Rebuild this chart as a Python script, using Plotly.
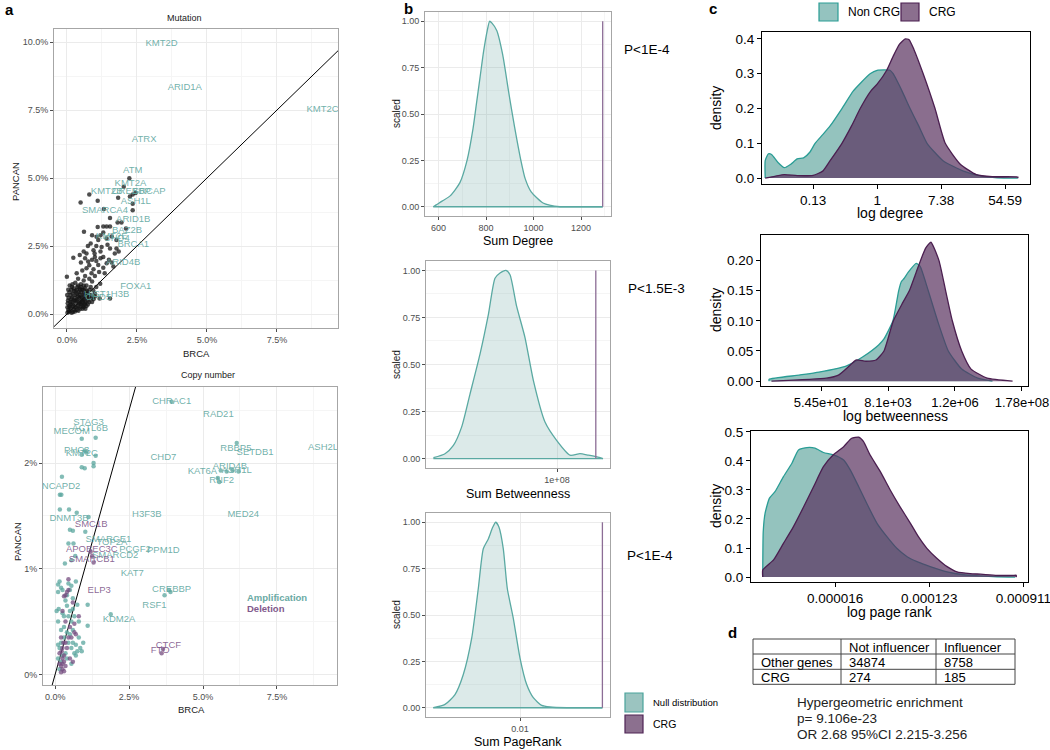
import plotly.graph_objects as go

W, H = 1050, 750
FONT = "Liberation Sans, Arial, sans-serif"

# ---------------- DATA ----------------
# Panel a: Mutation (BRCA %, PANCAN %)
mut_x = [2.23, 2.03, 0.80, 1.83, 2.35, 2.45, 2.25, 0.49, 1.10, 2.35, 2.35, 1.32, 1.54, 1.81, 1.95, 2.11,
         0.61, 1.30, 1.42, 1.54, 1.06, 1.12, 1.42, 1.77, 1.24, 1.54, 1.77, 0.99, 1.71, 0.23, 0.46, 0.70,
         0.76, 1.12, 1.42, 1.66, 0.70, 0.35, 0.88, 0.00, 0.60, 1.19, 0.18, 0.46, 0.70, 0.94, 1.17, 1.54,
         0.90, 1.00, 0.80, 0.95, 1.05, 1.20, 1.30, 1.15, 1.30, 0.55, 0.65, 0.80, 0.90, 1.00, 0.40, 0.50,
         0.70, 0.85, 1.05, 0.30, 0.60, 0.80, 1.00, 0.60, 0.75, 0.85, 1.05, 1.20, 1.50, 1.35, 1.60, 0.90,
         1.20, 1.10, 0.95, 0.50, 0.65, 1.45, 1.85, 1.60, 1.30,
         0.02, 0.05, 0.08, 0.10, 0.12, 0.15, 0.18, 0.20, 0.22, 0.25, 0.28, 0.30, 0.32, 0.35, 0.38, 0.40,
         0.42, 0.45, 0.48, 0.50, 0.52, 0.55, 0.58, 0.60, 0.62, 0.65, 0.68, 0.70, 0.72, 0.75, 0.78, 0.80,
         0.03, 0.06, 0.09, 0.11, 0.14, 0.16, 0.19, 0.21, 0.24, 0.27, 0.29, 0.31, 0.34, 0.37, 0.39, 0.41,
         0.44, 0.47, 0.49, 0.51, 0.54, 0.57, 0.59, 0.61, 0.64, 0.67, 0.69, 0.73, 0.02, 0.04, 0.07, 0.13,
         0.17, 0.23, 0.26, 0.33, 0.36, 0.43, 0.46, 0.53, 0.56, 0.63, 0.66, 0.01, 0.05, 0.10, 0.15, 0.20,
         0.25, 0.30, 0.35, 0.40, 0.45, 0.50, 0.55, 0.60, 0.85, 0.90, 0.95, 1.00, 0.80, 0.90, 0.75]
mut_y = [4.99, 4.68, 4.40, 4.28, 4.40, 4.45, 4.32, 4.10, 4.17, 4.06, 3.82, 3.86, 3.53, 3.37, 3.37, 3.15,
         3.03, 3.22, 3.22, 3.22, 2.84, 2.72, 2.78, 2.72, 2.47, 2.41, 2.41, 2.23, 2.23, 2.07, 2.17, 2.23,
         1.93, 1.81, 1.87, 1.75, 1.69, 1.50, 1.50, 1.37, 1.24, 1.12, 1.00, 0.94, 0.75, 0.88, 0.57, 0.57,
         2.00, 2.10, 1.80, 1.65, 1.95, 2.05, 2.10, 1.55, 1.70, 1.60, 1.40, 1.30, 1.20, 1.40, 1.30, 1.10,
         1.05, 1.00, 1.00, 1.15, 0.90, 0.90, 0.75, 2.30, 2.50, 2.60, 2.50, 2.30, 2.00, 1.50, 1.90, 2.90,
         2.90, 3.20, 2.35, 1.90, 2.05, 2.55, 2.30, 2.85, 3.00,
         0.05, 0.15, 0.30, 0.10, 0.45, 0.20, 0.60, 0.35, 0.08, 0.50, 0.25, 0.70, 0.40, 0.15, 0.55, 0.30,
         0.80, 0.45, 0.20, 0.65, 0.35, 0.90, 0.50, 0.25, 0.70, 0.40, 0.60, 0.30, 0.85, 0.50, 0.70, 0.45,
         0.40, 0.60, 0.80, 0.25, 0.70, 0.90, 0.45, 0.75, 0.95, 0.60, 0.10, 0.85, 0.50, 1.00, 0.65, 0.12,
         0.60, 0.90, 0.38, 0.80, 0.60, 0.30, 0.75, 0.55, 0.95, 0.45, 0.80, 0.65, 0.25, 0.50, 0.10, 0.35,
         0.05, 0.30, 0.15, 0.25, 0.75, 0.40, 0.70, 0.50, 0.20, 0.35, 0.20, 0.70, 0.90, 1.05, 0.55, 1.10,
         0.85, 0.50, 0.90, 1.05, 0.25, 1.00, 0.45, 1.05, 0.70, 0.60, 0.55, 0.65, 0.60, 0.45, 0.35]

mut_genes = ["KMT2D", "ARID1A", "KMT2C", "ATRX", "ATM", "KMT2A", "KMT2B", "CREBBP", "SRCAP", "ASH1L",
             "SMARCA4", "ARID1B", "BAZ2B", "KMT2E", "CHD4", "BRCA1", "ARID4B", "FOXA1", "HIST1H3B", "CHD5"]
mut_gx = [3.38, 4.21, 9.13, 2.76, 2.35, 2.27, 1.42, 2.30, 2.94, 2.46,
          1.36, 2.37, 2.15, 1.60, 1.78, 2.37, 2.01, 2.46, 1.42, 1.12]
mut_gy = [9.95, 8.32, 7.50, 6.42, 5.27, 4.80, 4.52, 4.52, 4.52, 4.13,
          3.79, 3.48, 3.06, 2.84, 2.78, 2.56, 1.90, 1.00, 0.70, 0.60]

# Panel a: Copy number
amp_x = [0.90, 1.37, 0.90, 1.05, 1.00, 1.37, 1.30, 1.30, 0.90, 1.00, 0.23, 0.16, 0.21, 0.16, 0.47, 0.73,
         0.50, 0.60, 1.02, 0.45, 0.62, 0.33, 0.55, 0.68, 1.13, 3.94, 6.14, 5.60, 5.80, 6.00, 6.20, 5.50,
         5.55, 3.85, 3.90, 3.70, 1.88,
         0.10, 0.15, 0.20, 0.10, 0.25, 0.45, 0.55, 0.70, 0.35, 0.40, 0.50, 0.60, 0.75, 1.10, 0.45, 0.55,
         0.65, 0.80, 0.30, 0.10, 0.20, 0.40, 0.50, 0.60, 0.70, 0.75, 0.65, 0.55, 0.10, 0.15, 0.20, 0.30,
         0.10, 0.20, 0.45, 0.85, 0.95, 1.10, 0.80, 0.30, 0.60, 0.90, 0.05, 0.12, 0.25, 0.40, 0.60, 0.50,
         0.70, 0.35, 0.25, 0.15, 0.40, 0.55]
amp_y = [2.23, 2.24, 2.08, 2.10, 2.12, 2.07, 2.00, 1.97, 1.96, 1.95, 1.87, 1.70, 1.70, 1.56, 1.56, 1.53,
         1.37, 1.36, 1.35, 1.24, 1.24, 1.05, 1.08, 1.12, 1.49, 2.58, 2.19, 1.93, 1.92, 1.93, 1.92, 1.86,
         1.82, 0.80, 0.78, 0.75, 0.57,
         0.85, 0.88, 0.82, 0.78, 0.80, 0.86, 0.84, 0.88, 0.70, 0.65, 0.60, 0.62, 0.66, 0.66, 0.55, 0.50,
         0.55, 0.50, 0.45, 0.50, 0.42, 0.40, 0.38, 0.30, 0.28, 0.22, 0.20, 0.25, 0.28, 0.25, 0.30, 0.35,
         0.15, 0.12, 0.30, 0.25, 0.30, 0.46, 0.35, 0.55, 0.42, 0.22, 0.60, 0.62, 0.58, 0.75, 0.72, 0.80,
         0.18, 0.20, 0.18, 0.05, 0.15, 0.10]
del_x = [0.45, 0.40, 0.35, 0.30, 0.45, 0.60, 0.80, 0.25, 0.35, 0.50, 0.65, 0.20, 0.35, 0.25, 0.45, 0.65,
         0.55, 0.70, 0.15, 0.25, 0.30, 0.20, 0.25, 0.20, 0.30, 0.30, 0.22, 0.40, 0.50, 0.60, 0.15, 0.35,
         1.25, 1.20, 1.30, 3.60, 3.65, 0.25, 0.28]
del_y = [0.90, 0.78, 0.75, 0.74, 0.80, 0.68, 0.55, 0.60, 0.50, 0.45, 0.48, 0.35, 0.30, 0.25, 0.35, 0.40,
         0.35, 0.38, 0.20, 0.15, 0.12, 0.08, 0.05, 0.02, 0.03, 0.18, 0.22, 0.25, 0.15, 0.12, 0.10, 0.08,
         1.12, 1.16, 1.06, 0.20, 0.24, 0.10, 0.30]

amp_genes = ["CHRAC1", "RAD21", "STAG3", "ACTL6B", "MECOM", "RBBP5", "SETDB1", "ASH2L", "PHC3", "KMT2C",
             "CHD7", "ARID4B", "KAT6A", "ASH1L", "RNF2", "NCAPD2", "H3F3B", "MED24", "DNMT3B", "SMARCE1",
             "TOP2A", "PCGF2", "PPM1D", "SMARCD2", "KAT7", "CREBBP", "RSF1", "KDM2A"]
amp_gx = [3.94, 5.52, 1.13, 1.18, 0.56, 6.11, 6.76, 9.06, 0.73, 0.90,
          3.66, 5.91, 4.98, 6.14, 5.63, 0.20, 3.10, 6.36, 0.47, 1.80,
          1.92, 2.70, 3.66, 2.03, 2.61, 3.94, 3.36, 2.16]
amp_gy = [2.58, 2.46, 2.38, 2.33, 2.30, 2.14, 2.10, 2.15, 2.12, 2.09,
          2.05, 1.97, 1.92, 1.93, 1.83, 1.78, 1.51, 1.51, 1.47, 1.28,
          1.25, 1.18, 1.17, 1.12, 0.95, 0.80, 0.65, 0.52]
del_genes = ["SMC1B", "APOBEC3C", "SMARCB1", "ELP3", "CTCF", "FTO"]
del_gx = [1.22, 1.24, 1.24, 1.49, 3.83, 3.55]
del_gy = [1.42, 1.18, 1.09, 0.79, 0.27, 0.23]

# Panel b: null distributions (scaled density) and CRG observed values
deg_x = [578, 590, 615, 650, 690, 720, 745, 760, 775, 790, 805, 815, 825, 845, 870, 895,
         920, 945, 965, 990, 1040, 1111, 1200, 1291]
deg_y = [0.0, 0.01, 0.03, 0.06, 0.13, 0.25, 0.42, 0.56, 0.70, 0.84, 0.95, 1.0, 0.99, 0.95, 0.82, 0.62,
         0.43, 0.26, 0.15, 0.08, 0.02, 0.0, 0.0, 0.0]
deg_crg = 1291
btw_x = [3.82e7, 4.40e7, 4.82e7, 5.23e7, 5.65e7, 6.15e7, 6.57e7, 6.90e7, 7.15e7, 7.45e7, 7.65e7,
         7.98e7, 8.40e7, 8.82e7, 9.40e7, 9.98e7, 1.065e8, 1.115e8, 1.157e8, 1.20e8, 1.23e8]
btw_y = [0.005, 0.026, 0.07, 0.167, 0.343, 0.555, 0.766, 0.958, 0.986, 1.0, 0.977,
         0.81, 0.643, 0.414, 0.194, 0.097, 0.018, 0.026, 0.018, 0.009, 0.0]
btw_crg = 1.194e8
pr_x = [0.005665, 0.00625, 0.00675, 0.007165, 0.007585, 0.007915, 0.008165, 0.008415, 0.008635,
        0.008785, 0.00895, 0.009165, 0.009365, 0.009665, 0.0100, 0.010335, 0.010665, 0.011085,
        0.0115, 0.01234, 0.0140, 0.01412]
pr_y = [0.0, 0.018, 0.071, 0.179, 0.375, 0.643, 0.857, 0.91, 0.973, 1.0, 0.973, 0.857, 0.643, 0.482,
        0.268, 0.125, 0.054, 0.0125, 0.004, 0.0, 0.0, 0.0]
pr_crg = 0.01412
pvals = ["P<1E-4", "P<1.5E-3", "P<1E-4"]

# Panel c: densities on natural-log scale
c1_non_x = [-3.5, -3.5, -3.4, -3.3, -3.1, -2.9, -2.7, -2.5, -2.3, -2.1, -1.94, -1.7, -1.47, -1.1, -0.75,
            -0.5, -0.22, 0.0, 0.4, 0.5, 0.78, 1.03, 1.3, 1.56, 2.06, 2.7, 3.3, 3.75, 4.4]
c1_non_y = [0.0, 0.05, 0.07, 0.068, 0.045, 0.03, 0.04, 0.055, 0.058, 0.075, 0.10, 0.125, 0.15, 0.20, 0.25,
            0.275, 0.30, 0.31, 0.31, 0.30, 0.25, 0.20, 0.15, 0.10, 0.05, 0.02, 0.005, 0.001, 0.0]
c1_crg_x = [-3.5, -3.2, -2.9, -2.5, -2.0, -1.7, -1.47, -1.1, -0.8, -0.53, -0.2, 0.0, 0.3, 0.5, 0.7,
            0.88, 1.0, 1.15, 1.44, 1.81, 2.13, 2.6, 3.1, 3.6, 4.4, 4.4]
c1_crg_y = [0.0, 0.005, 0.01, 0.007, 0.008, 0.02, 0.05, 0.10, 0.15, 0.20, 0.25, 0.27, 0.31, 0.35, 0.385,
            0.40, 0.398, 0.37, 0.30, 0.20, 0.10, 0.04, 0.01, 0.004, 0.003, 0.0]
c2_non_x = [0.12, 0.12, 2.36, 3.85, 5.87, 7.1, 8.3, 8.7, 9.37, 9.8, 10.0, 10.2, 10.5, 11.1, 11.4, 12.0,
            12.7, 13.5, 14.5, 15.7, 16.8]
c2_non_y = [0.0, 0.003, 0.01, 0.015, 0.025, 0.04, 0.06, 0.07, 0.10, 0.15, 0.165, 0.17, 0.18, 0.195, 0.19,
            0.15, 0.10, 0.05, 0.02, 0.005, 0.0]
c2_crg_x = [0.3, 4.4, 5.3, 6.1, 6.6, 7.35, 8.1, 8.7, 9.4, 10.1, 10.6, 11.1, 11.8, 12.2, 12.8, 13.3,
            13.8, 14.5, 15.2, 16.4, 18.3]
c2_crg_y = [0.0, 0.005, 0.01, 0.025, 0.035, 0.033, 0.035, 0.05, 0.10, 0.13, 0.15, 0.18, 0.22, 0.23, 0.20,
            0.15, 0.10, 0.05, 0.02, 0.005, 0.0]
c3_non_x = [-12.54, -12.54, -12.53, -12.49, -12.40, -12.28, -12.10, -11.92, -11.78, -11.60, -11.43,
            -11.25, -11.04, -10.82, -10.68, -10.50, -10.33, -10.11, -9.90, -9.69, -9.47, -9.26, -8.98,
            -8.62, -8.27, -7.91, -7.56, -7.17]
c3_non_y = [0.0, 0.02, 0.156, 0.22, 0.271, 0.294, 0.346, 0.392, 0.438, 0.446, 0.444, 0.429, 0.421, 0.403,
            0.369, 0.311, 0.254, 0.185, 0.139, 0.099, 0.07, 0.053, 0.036, 0.018, 0.008, 0.004, 0.001, 0.0]
c3_crg_x = [-12.54, -12.54, -12.31, -12.10, -11.89, -11.67, -11.46, -11.25, -11.04, -10.82, -10.65,
            -10.50, -10.40, -10.26, -10.04, -9.83, -9.62, -9.40, -9.23, -9.05, -8.84, -8.62, -8.41,
            -8.13, -7.91, -7.56, -7.21, -7.15, -7.15]
c3_crg_y = [0.0, 0.024, 0.059, 0.116, 0.173, 0.242, 0.311, 0.380, 0.421, 0.449, 0.478, 0.482, 0.467,
            0.421, 0.363, 0.30, 0.242, 0.185, 0.139, 0.099, 0.065, 0.036, 0.018, 0.012, 0.01, 0.006,
            0.006, 0.006, 0.0]
c1_ticks = [-2, 0, 2, 4]
c1_labels = ["0.13", "1", "7.38", "54.59"]
c2_ticks = [4, 9, 14, 19]
c2_labels = ["5.45e+01", "8.1e+03", "1.2e+06", "1.78e+08"]
c3_ticks = [-11, -9, -7]
c3_labels = ["0.000016", "0.000123", "0.000911"]

# Panel d: table
tbl_header = ["", "Not influencer", "Influencer"]
tbl_rows = [["Other genes", "34874", "8758"], ["CRG", "274", "185"]]
hyper_lines = ["Hypergeometric enrichment", "p= 9.106e-23", "OR 2.68 95%CI 2.215-3.256"]

# ---------------- STYLE ----------------
TEAL_LBL = "rgba(95,168,161,0.9)"
PURP_LBL = "rgba(128,86,138,0.9)"
TEAL_PT = "rgba(90,165,158,0.75)"
PURP_PT = "rgba(118,78,128,0.75)"
NON_FILL = "rgba(41,135,125,0.5)"
NON_LINE = "#2a9d95"
CRG_FILL = "rgba(89,49,94,0.7)"
CRG_LINE = "#4b1f50"
B_FILL = "rgba(80,150,145,0.2)"
B_LINE = "#5aa9a2"
B_CRG = "#8c6d96"


def dx(l, r):
    return [l / W, r / W]


def dy(t, b):
    return [1 - b / H, 1 - t / H]


def px(x, y):
    return x / W, 1 - y / H


fig = go.Figure()

# --- a: mutation
fig.add_trace(go.Scatter(x=[-1, 11], y=[-1, 11], mode="lines", line=dict(color="black", width=1),
                         xaxis="x", yaxis="y", hoverinfo="skip"))
fig.add_trace(go.Scatter(x=mut_x, y=mut_y, mode="markers", xaxis="x", yaxis="y",
                         marker=dict(color="rgba(20,20,20,0.75)", size=4.5, line=dict(width=0))))
fig.add_trace(go.Scatter(x=mut_gx, y=mut_gy, text=mut_genes, mode="text", xaxis="x", yaxis="y",
                         textfont=dict(family=FONT, size=9.5, color=TEAL_LBL), cliponaxis=True))
# --- a: copy number
fig.add_trace(go.Scatter(x=[-1, 11], y=[-1, 11], mode="lines", line=dict(color="black", width=1),
                         xaxis="x2", yaxis="y2", hoverinfo="skip"))
fig.add_trace(go.Scatter(x=amp_x, y=amp_y, mode="markers", xaxis="x2", yaxis="y2",
                         marker=dict(color=TEAL_PT, size=4.5, line=dict(width=0))))
fig.add_trace(go.Scatter(x=del_x, y=del_y, mode="markers", xaxis="x2", yaxis="y2",
                         marker=dict(color=PURP_PT, size=4.5, line=dict(width=0))))
fig.add_trace(go.Scatter(x=amp_gx, y=amp_gy, text=amp_genes, mode="text", xaxis="x2", yaxis="y2",
                         textfont=dict(family=FONT, size=9.5, color=TEAL_LBL), cliponaxis=True))
fig.add_trace(go.Scatter(x=del_gx, y=del_gy, text=del_genes, mode="text", xaxis="x2", yaxis="y2",
                         textfont=dict(family=FONT, size=9.5, color=PURP_LBL), cliponaxis=True))

# --- b
for (xs, ys, crg, ax) in [(deg_x, deg_y, deg_crg, "3"), (btw_x, btw_y, btw_crg, "4"), (pr_x, pr_y, pr_crg, "5")]:
    fig.add_trace(go.Scatter(x=xs, y=ys, mode="lines", fill="tozeroy", fillcolor=B_FILL,
                             line=dict(color=B_LINE, width=1.3, shape="spline", smoothing=0.6),
                             xaxis="x" + ax, yaxis="y" + ax))
    fig.add_trace(go.Scatter(x=[xs[0], xs[-1]], y=[0, 0], mode="lines", line=dict(color=B_LINE, width=1.3),
                             xaxis="x" + ax, yaxis="y" + ax))
    fig.add_trace(go.Scatter(x=[crg, crg], y=[0, 1], mode="lines", line=dict(color=B_CRG, width=1.3),
                             xaxis="x" + ax, yaxis="y" + ax))

# --- c
for (nx, ny, cx, cy, ax) in [(c1_non_x, c1_non_y, c1_crg_x, c1_crg_y, "6"),
                             (c2_non_x, c2_non_y, c2_crg_x, c2_crg_y, "7"),
                             (c3_non_x, c3_non_y, c3_crg_x, c3_crg_y, "8")]:
    fig.add_trace(go.Scatter(x=nx, y=ny, mode="lines", fill="tozeroy", fillcolor=NON_FILL,
                             line=dict(color=NON_LINE, width=1.3, shape="spline", smoothing=0.5),
                             xaxis="x" + ax, yaxis="y" + ax))
    fig.add_trace(go.Scatter(x=cx, y=cy, mode="lines", fill="tozeroy", fillcolor=CRG_FILL,
                             line=dict(color=CRG_LINE, width=1.3, shape="spline", smoothing=0.5),
                             xaxis="x" + ax, yaxis="y" + ax))


def bw(domain, rng, anchor, **kw):
    d = dict(domain=domain, range=rng, anchor=anchor, showline=True, mirror=True, linecolor="#a6a6a6",
             linewidth=1, showgrid=True, gridcolor="#ebebeb", gridwidth=1, zeroline=False,
             ticks="outside", ticklen=3, tickcolor="#4d4d4d", tickwidth=1, ticklabeloverflow="allow",
             tickfont=dict(family=FONT, size=9, color="#4d4d4d"))
    d.update(kw)
    return d


def cl(domain, rng, anchor, size=13.5, **kw):
    d = dict(domain=domain, range=rng, anchor=anchor, showline=True, mirror=True, linecolor="black",
             linewidth=1.2, showgrid=False, zeroline=False, ticks="outside", ticklen=4, tickcolor="black",
             tickwidth=1, ticklabeloverflow="allow", tickfont=dict(family=FONT, size=size, color="black"))
    d.update(kw)
    return d


MINOR = dict(showgrid=True, gridcolor="#f5f5f5", ticks="")

layout = dict(
    width=W, height=H, margin=dict(l=0, r=0, t=0, b=0), showlegend=False,
    paper_bgcolor="white", plot_bgcolor="white", template="none",
    font=dict(family=FONT),
    xaxis=bw(dx(54, 338), [-0.46, 9.68], "y", tick0=0, dtick=2.5, tickformat=".1f", ticksuffix="%",
             minor=dict(tick0=0, dtick=1.25, **MINOR)),
    yaxis=bw(dy(29, 328), [-0.51, 10.48], "x", tick0=0, dtick=2.5, tickformat=".1f", ticksuffix="%",
             minor=dict(tick0=0, dtick=1.25, **MINOR)),
    xaxis2=bw(dx(43, 337), [-0.41, 9.53], "y2", tick0=0, dtick=2.5, tickformat=".1f", ticksuffix="%",
              minor=dict(tick0=0, dtick=1.25, **MINOR)),
    yaxis2=bw(dy(387, 685), [-0.10, 2.72], "x2", tick0=0, dtick=1, tickformat=".0f", ticksuffix="%",
              minor=dict(tick0=0, dtick=0.5, **MINOR)),
    xaxis3=bw(dx(425, 611), [543, 1326], "y3", tick0=0, dtick=200, minor=dict(tick0=0, dtick=100, **MINOR)),
    yaxis3=bw(dy(12, 216), [-0.05, 1.05], "x3", tick0=0, dtick=0.25, tickformat=".2f",
              minor=dict(tick0=0, dtick=0.125, **MINOR)),
    xaxis4=bw(dx(426, 610), [3.45e7, 1.265e8], "y4", tickmode="array", tickvals=[1e8], ticktext=["1e+08"]),
    yaxis4=bw(dy(261, 468), [-0.05, 1.05], "x4", tick0=0, dtick=0.25, tickformat=".2f",
              minor=dict(tick0=0, dtick=0.125, **MINOR)),
    xaxis5=bw(dx(426, 610), [0.0053, 0.0145], "y5", tickmode="array", tickvals=[0.01], ticktext=["0.01"]),
    yaxis5=bw(dy(513, 717), [-0.05, 1.05], "x5", tick0=0, dtick=0.25, tickformat=".2f",
              minor=dict(tick0=0, dtick=0.125, **MINOR)),
    xaxis6=cl(dx(762, 1030), [-3.6, 4.78], "y6", tickmode="array", tickvals=c1_ticks, ticktext=c1_labels),
    yaxis6=cl(dy(32, 184), [-0.017, 0.42], "x6", tick0=0, dtick=0.1, tickformat=".1f"),
    xaxis7=cl(dx(761, 1028), [-0.48, 19.45], "y7", size=13, tickmode="array", tickvals=c2_ticks,
              ticktext=c2_labels),
    yaxis7=cl(dy(235, 386), [-0.008, 0.242], "x7", tick0=0, dtick=0.05, tickformat=".2f"),
    xaxis8=cl(dx(751, 1028), [-12.79, -6.9], "y8", tickmode="array", tickvals=c3_ticks, ticktext=c3_labels),
    yaxis8=cl(dy(431, 582), [-0.017, 0.503], "x8", tick0=0, dtick=0.1, tickformat=".1f"),
)
fig.update_layout(**layout)

ann = []
shapes = []


def text(x, y, s, size, color="black", xanchor="center", yanchor="middle", angle=0, bold=False):
    xx, yy = px(x, y)
    ann.append(dict(x=xx, y=yy, xref="paper", yref="paper", text=("<b>%s</b>" % s) if bold else s,
                    showarrow=False, xanchor=xanchor, yanchor=yanchor, textangle=angle,
                    font=dict(family=FONT, size=size, color=color)))


def rect(x0, y0, x1, y1, fill, line, lw=1):
    a0, b0 = px(x0, y0)
    a1, b1 = px(x1, y1)
    shapes.append(dict(type="rect", xref="paper", yref="paper", x0=a0, y0=b1, x1=a1, y1=b0,
                       fillcolor=fill, line=dict(color=line, width=lw)))


def hline(x0, x1, y, color="#444", lw=1):
    a0, b = px(x0, y)
    a1, _ = px(x1, y)
    shapes.append(dict(type="line", xref="paper", yref="paper", x0=a0, x1=a1, y0=b, y1=b,
                       line=dict(color=color, width=lw)))


def vline(x, y0, y1, color="#444", lw=1):
    a, b0 = px(x, y0)
    _, b1 = px(x, y1)
    shapes.append(dict(type="line", xref="paper", yref="paper", x0=a, x1=a, y0=b0, y1=b1,
                       line=dict(color=color, width=lw)))


# panel letters
text(3, 9, "a", 15, xanchor="left", bold=True)
text(402, 8, "b", 15, xanchor="left", bold=True)
text(707, 8, "c", 15, xanchor="left", bold=True)
text(726, 632, "d", 15, xanchor="left", bold=True)

# a titles
text(184, 18, "Mutation", 9, color="#1a1a1a")
text(208, 375, "Copy number", 9, color="#1a1a1a")
text(196, 353, "BRCA", 9.5, color="#1a1a1a")
text(191, 709, "BRCA", 9.5, color="#1a1a1a")
text(15, 182, "PANCAN", 9.5, color="#1a1a1a", angle=-90)
text(17, 542, "PANCAN", 9.5, color="#1a1a1a", angle=-90)
ann.append(dict(x=6.42, y=0.73, xref="x2", yref="y2", text="<b>Amplification</b>", showarrow=False,
                xanchor="left", font=dict(family=FONT, size=9.5, color="#6aaaa4")))
ann.append(dict(x=6.42, y=0.62, xref="x2", yref="y2", text="<b>Deletion</b>", showarrow=False,
                xanchor="left", font=dict(family=FONT, size=9.5, color="#825a8c")))

# b titles
for yc in [114, 365, 615]:
    text(396, yc, "scaled", 10, color="#1a1a1a", angle=-90)
text(518, 241, "Sum Degree", 12.5)
text(518, 494, "Sum Betweenness", 12.5)
text(518, 742, "Sum PageRank", 12.5)
text(622, 50, pvals[0], 13.5, xanchor="left")
text(626, 288, pvals[1], 13.5, xanchor="left")
text(625, 555, pvals[2], 13.5, xanchor="left")
rect(625, 693, 643, 712, "#9bc4c0", "#4aa39b", 1.2)
rect(625, 715, 643, 733, "#8c708f", "#4f2455", 1.2)
text(651, 702, "Null distribution", 9.5, xanchor="left")
text(651, 724, "CRG", 10.5, xanchor="left")

# c titles & legend
for yc in [108, 310, 506]:
    text(716, yc, "density", 14, angle=-90)
text(890, 213, "log degree", 14)
text(895, 416, "log betweenness", 14)
text(890, 612, "log page rank", 14)
rect(819, 3, 838, 21, "#94c3bf", NON_LINE, 1.2)
rect(901, 3, 919, 21, "#8b6f8e", CRG_LINE, 1.2)
text(846, 12, "Non CRG", 12, xanchor="left")
text(927, 12, "CRG", 12, xanchor="left")

# d table
cols = [753, 841, 936, 1015]
rows = [639, 654, 669.3, 684.3]
for yv in rows:
    hline(cols[0], cols[-1], yv)
for xv in cols:
    vline(xv, rows[0], rows[-1])
all_rows = [tbl_header] + tbl_rows
for ri, row in enumerate(all_rows):
    yc = (rows[ri] + rows[ri + 1]) / 2
    for ci, cell in enumerate(row):
        if cell:
            text(cols[ci] + 6, yc + 0.5, cell, 13, xanchor="left")
for i, line in enumerate(hyper_lines):
    text(795, 702 + 16 * i, line, 13.5, xanchor="left", color="#222")

fig.update_layout(annotations=ann, shapes=shapes)
fig.write_html("out.html", config={"displayModeBar": False},
               post_script="document.body.style.margin='0px';document.body.style.overflow='hidden';")
